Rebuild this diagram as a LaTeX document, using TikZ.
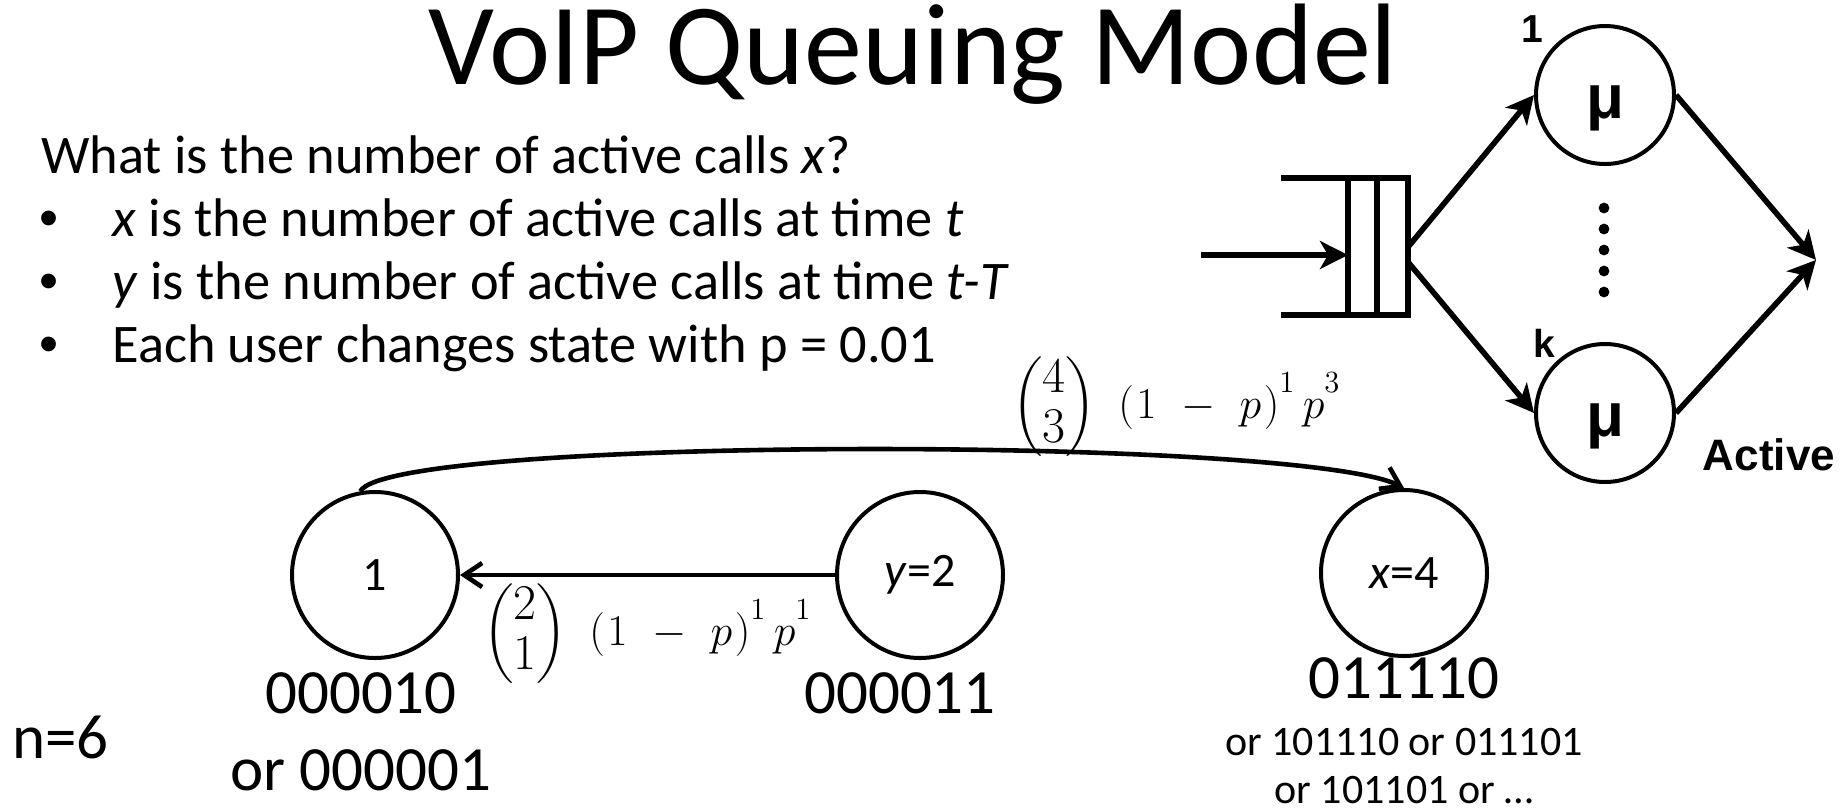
\RequirePackage{fix-cm}
\documentclass[tikz,border=0pt]{standalone}
\usepackage{amsmath}
\usepackage[no-math]{fontspec}
\setmainfont{Carlito}
\newfontfamily\arialfont{Liberation Sans}
\usetikzlibrary{arrows.meta}
\newcommand{\hisup}[1]{^{\raisebox{5pt}{$\scriptstyle #1$}}}
\newcommand{\translbl}[4]{$\left(\vcenter{\hbox{\fontsize{25}{25}\selectfont$\begin{matrix}#1\\#2\end{matrix}$}}\right)\mkern6mu(\mkern1mu 1\mkern6mu-\mkern6mu p\mkern1mu)\hisup{#3}\mkern3mu p\hisup{#4}$}
\begin{document}
\begin{tikzpicture}[x=0.5pt,y=-0.5pt,
  txt/.style={inner sep=0pt},
  title/.style={txt,anchor=base,font=\fontsize{58}{64}\selectfont},
  body/.style={txt,anchor=base west,font=\fontsize{27.2}{32}\selectfont},
  bul/.style={txt,anchor=base west,font=\arialfont\fontsize{27.2}{32}\selectfont},
  state/.style={circle,draw,line width=2pt,minimum size=83pt,inner sep=0pt,font=\fontsize{24}{28}\selectfont},
  server/.style={circle,draw,line width=2pt,minimum size=69pt,inner sep=0pt,font=\arialfont\bfseries\fontsize{31}{36}\selectfont},
  lbl/.style={txt,font=\arialfont\bfseries\fontsize{19.5}{22}\selectfont},
  bin/.style={txt,anchor=base,font=\fontsize{31.5}{36}\selectfont},
  smallbin/.style={txt,anchor=base,font=\fontsize{21}{25}\selectfont},
  mathlbl/.style={txt,anchor=base west,font=\fontsize{22}{25}\selectfont},
  qline/.style={line width=3pt},
  qarr/.style={line width=2.8pt,-{Stealth[length=14pt,width=14pt,inset=4pt]}},
  sarr/.style={line width=2.3pt,-{Straight Barb[length=9pt,width=12pt]}}
]
\useasboundingbox (0,0) rectangle (1848,810);

% title and text
\node[title] (title) at (913,84) {VoIP Queuing Model};
\node[body] (l0) at (41,173) {What is the number of active calls \textit{x}?};
\node[bul] (b1) at (39,236) {•};
\node[bul] (b2) at (39,299) {•};
\node[bul] (b3) at (39,362) {•};
\node[body] (l1) at (112,236) {\textit{x} is the number of active calls at time \textit{t}};
\node[body] (l2) at (112,299) {\textit{y} is the number of active calls at time \textit{t-T}};
\node[body] (l3) at (112,362) {Each user changes state with p = 0.01};

% queue diagram
\coordinate (qin) at (1201,255);
\coordinate (qfront) at (1348,255);
\coordinate (qa) at (1408,247);
\coordinate (qb) at (1408,262);
\coordinate (qout) at (1816,260);
\draw[qline] (1281,178) -- (1408,178) -- (1408,315) -- (1281,315);
\draw[qline] (1348,178) -- (1348,315);
\draw[qline] (1377,178) -- (1377,315);
\draw[qarr] (qin) -- (qfront);
\node[server] (s1) at (1605,95) {\raisebox{-11.5pt}[0pt][0pt]{μ}};
\node[server] (s2) at (1605,413) {\raisebox{-11.5pt}[0pt][0pt]{μ}};
\draw[qarr] (qa) -- (s1.west);
\draw[qarr] (qb) -- (s2.west);
\draw[qarr] (s1.east) -- (qout);
\draw[qarr] (s2.east) -- (qout);
\foreach \yy in {208,229,250,271,292} \fill (1604,\yy) circle (2.7pt);
\node[lbl] (one) at (1532,29) {1};
\node[lbl] (kk) at (1544,343) {k};
\node[txt,font=\arialfont\bfseries\fontsize{22}{25}\selectfont] (active) at (1769,455) {Active};

% state diagram
\node[state] (c1) at (375,575) {1};
\node[state] (c2) at (920,575) {\textit{y}=2};
\node[state] (c4) at (1404,573) {\textit{x}=4};
\draw[sarr] (c2) -- (c1);
\draw[sarr] (c1.100) .. controls (390,436) and (1300,436) .. (c4.north);
\node[mathlbl] (m1) at (483,645) {\translbl{2}{1}{1}{1}};
\node[mathlbl] (m2) at (1012,418) {\translbl{4}{3}{1}{3}};

\node[bin] (t1) at (361,713) {000010};
\node[bin] (t1b) at (361,790) {or 000001};
\node[bin] (t2) at (900,713) {000011};
\node[bin] (t4) at (1404,698) {011110};
\node[smallbin] (t4b) at (1404,755) {or 101110 or 011101};
\node[smallbin] (t4c) at (1404,803) {or 101101 or …};
\node[bin,anchor=base west] (n6) at (12,758) {n=6};
\end{tikzpicture}
\end{document}
